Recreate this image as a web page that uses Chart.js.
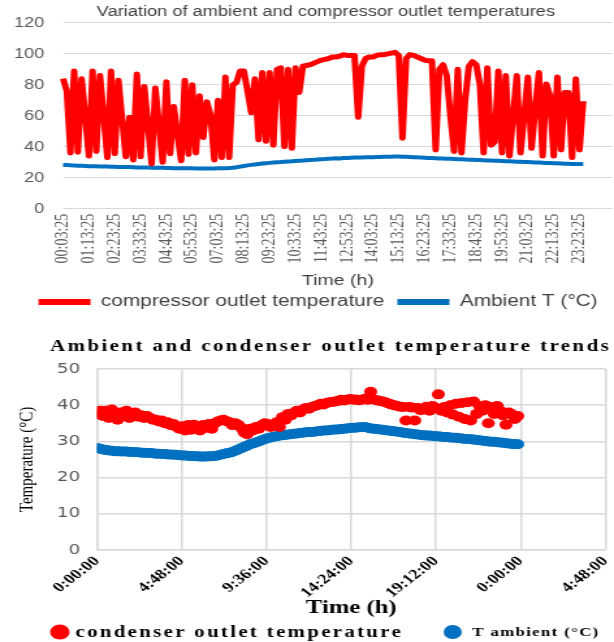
<!DOCTYPE html>
<html>
<head>
<meta charset="utf-8">
<script src="https://cdn.jsdelivr.net/npm/chart.js@4.4.1/dist/chart.umd.min.js"></script>
<style>
  body { margin: 0; background: #fff; }
  canvas { display: block; }
</style>
</head>
<body>
<!-- the figure is stretched sideways, so both charts are drawn 472 wide and widened to 614 by css -->
<canvas id="top-chart" width="472" height="320" style="width:614px;height:320px"></canvas>
<canvas id="bottom-chart" width="472" height="322" style="width:614px;height:322px"></canvas>
<script>
// ---- top chart: compressor outlet vs ambient, one value every 10 min from 00:03:25
const compressorT = [
  84, 76, 36, 89, 36.5, 84, 60, 34, 89, 37,
  86, 60, 33, 89, 35.5, 83, 58, 33.5, 59, 31.5,
  87, 33.5, 79, 54, 29, 78, 54, 30, 82, 35.5,
  66, 48, 31, 83, 35, 80, 36, 73, 46, 69,
  60, 31.5, 70, 33, 85, 33, 80, 81.5, 89, 89,
  76, 62, 84, 44.5, 88, 43.5, 88, 41, 90, 91,
  40, 90, 39, 91, 75, 92, 92.5, 93, 94, 95,
  96, 96.5, 97, 98, 98, 98.5, 99.5, 99, 99, 99,
  59, 92, 97, 98, 98, 99, 99.5, 99.5, 100, 100.5,
  101, 99, 45.5, 97, 99.5, 99, 98, 97, 96, 95.5,
  95.5, 38, 90, 93, 86, 60, 37, 90, 36, 70,
  92, 95, 93, 80, 36, 91, 41, 43, 89, 36,
  86, 34, 60, 86, 36, 60, 85, 39, 65, 88,
  34, 80.5, 73, 34, 85, 38, 75, 75, 33, 84,
  38, 69.5
];
const ambientT = [
  28.3, 28.2, 28.0, 27.9, 27.8, 27.7, 27.6, 27.5, 27.5, 27.4,
  27.3, 27.3, 27.2, 27.1, 27.1, 27.0, 27.0, 26.9, 26.9, 26.8,
  26.7, 26.7, 26.6, 26.6, 26.5, 26.5, 26.4, 26.4, 26.3, 26.3,
  26.2, 26.2, 26.2, 26.1, 26.1, 26.1, 26.0, 26.0, 26.0, 26.0,
  26.0, 26.0, 26.1, 26.1, 26.2, 26.3, 26.5, 26.8, 27.2, 27.6,
  28.0, 28.3, 28.6, 28.9, 29.2, 29.4, 29.6, 29.8, 30.0, 30.1,
  30.3, 30.5, 30.6, 30.8, 31.0, 31.1, 31.3, 31.5, 31.6, 31.8,
  32.0, 32.1, 32.3, 32.4, 32.6, 32.5, 32.7, 32.8, 32.9, 33.0,
  33.0, 33.1, 33.2, 33.2, 33.3, 33.4, 33.4, 33.5, 33.6, 33.6,
  33.8, 33.7, 33.6, 33.5, 33.4, 33.3, 33.2, 33.0, 32.9, 32.8,
  32.7, 32.6, 32.5, 32.4, 32.3, 32.2, 32.1, 32.0, 31.9, 31.8,
  31.7, 31.6, 31.5, 31.4, 31.3, 31.2, 31.1, 31.0, 30.9, 30.8,
  30.7, 30.6, 30.5, 30.4, 30.3, 30.2, 30.1, 30.0, 29.9, 29.8,
  29.7, 29.6, 29.5, 29.4, 29.3, 29.2, 29.1, 29.0, 28.9, 28.9,
  28.8, 28.8
];
const startSec = 3 * 60 + 25;   // 00:03:25
const stepSec = 600;            // 10 min
const slotCount = 150;          // axis runs a bit past the last reading
const labelEvery = 7;           // a label every 70 min
const lastLabel = 140;          // 23:23:25

function clock(sec) {
  const h = Math.floor(sec / 3600) % 24, m = Math.floor(sec / 60) % 60, s = sec % 60;
  return [h, m, s].map(n => String(n).padStart(2, '0')).join(':');
}
const timeLabels = [];
for (let i = 0; i < slotCount; i++) timeLabels.push(clock(startSec + i * stepSec));

// nudge title and legend right, the excel original centres them over the plot
const nudgeTop = {
  id: 'nudgeTop',
  afterLayout(chart) {
    chart.titleBlock.left += 20;
    chart.legend.left += 8;
  }
};

new Chart(document.getElementById('top-chart'), {
  type: 'line',
  data: {
    labels: timeLabels,
    datasets: [
      {
        label: 'compressor outlet temperature',
        data: compressorT,
        borderColor: '#ff0000',
        backgroundColor: '#ff0000',
        borderWidth: 5,
        borderJoinStyle: 'round',
        pointRadius: 0
      },
      {
        label: 'Ambient T (°C)',
        data: ambientT,
        borderColor: '#0070c0',
        backgroundColor: '#0070c0',
        borderWidth: 4,
        pointRadius: 0
      }
    ]
  },
  options: {
    responsive: false,
    animation: false,
    layout: { padding: { left: 10, right: 1, top: 0, bottom: 0 } },
    plugins: {
      title: {
        display: true,
        text: 'Variation of ambient and compressor outlet temperatures',
        color: '#404040',
        font: { family: 'Liberation Sans', size: 14, weight: 'normal' },
        padding: { top: 4, bottom: 2 }
      },
      legend: {
        position: 'bottom',
        labels: {
          boxWidth: 40,
          boxHeight: 6,
          padding: 10,
          color: '#404040',
          font: { family: 'Liberation Sans', size: 16 },
          generateLabels: chart => Chart.defaults.plugins.legend.labels.generateLabels(chart)
            .map(item => Object.assign(item, { fillStyle: item.strokeStyle, lineWidth: 0 }))
        }
      },
      tooltip: { enabled: false }
    },
    scales: {
      x: {
        afterFit: scale => { scale.paddingLeft = 0; scale.paddingRight = 0; },
        grid: { display: false, drawTicks: false },
        border: { display: false },
        ticks: {
          autoSkip: false,
          minRotation: 90,
          maxRotation: 90,
          padding: 5,
          color: '#595959',
          font: { family: 'Liberation Serif', size: 14 },
          callback: (v, i) => (i % labelEvery === 0 && i <= lastLabel) ? timeLabels[i] : ''
        },
        title: {
          display: true,
          text: 'Time (h)',
          color: '#404040',
          font: { family: 'Liberation Sans', size: 15 },
          padding: { top: 3.5, bottom: -6 }
        }
      },
      y: {
        min: 0,
        max: 120,
        afterFit: scale => { scale.width = 38.5; },
        grid: { color: '#d9d9d9', drawTicks: false },
        border: { display: false },
        ticks: {
          stepSize: 20,
          padding: 14.5,
          color: '#595959',
          font: { family: 'Liberation Sans', size: 14 }
        }
      }
    }
  },
  plugins: [nudgeTop]
});

// ---- bottom chart: condenser outlet vs ambient, one reading every 10 min over one day
const condenserT = [
  37.5, 38.5, 37, 38.5, 36.5, 38.8, 37.5, 36, 38, 37,
  38.5, 36.5, 37.5, 38, 36.8, 37.2, 36.5, 37, 36.5, 36,
  36, 35.5, 35.8, 35, 35.3, 34.5, 34.8, 34, 33.5, 34.2,
  33, 34.5, 33.2, 34.6, 33.5, 33, 34.5, 33.8, 34.8, 33.5,
  35, 35.5, 35.8, 36, 35.6, 35.3, 34.5, 35, 34.6, 33.8,
  32.5, 32, 33.5, 33, 34, 33.5, 34.5, 35, 34.8, 34,
  34.5, 35.3, 34, 36.7, 36, 37.6, 37.2, 38, 38.5, 38,
  38.8, 39.2, 39, 39.5, 39.8, 40, 40.4, 40.2, 40.6, 40.8,
  40.9, 41, 41.2, 41.5, 41.3, 41.5, 41.7, 41.5, 41.6, 41.4,
  41.5, 41.8, 41.5, 43.7, 41.6, 41.4, 41.2, 41, 40.8, 40.5,
  40.2, 40, 39.8, 39.6, 39.5, 35.8, 39.5, 39.4, 35.8, 39.2,
  38.6, 39, 39.6, 38.5, 39.8, 39.3, 43, 38.5, 39.5, 38,
  40, 37.4, 40.4, 36.8, 40.6, 36.2, 40.8, 35.8, 41, 37.6,
  39.8, 38.5, 40, 35, 39.5, 37.6, 39.8, 38.5, 37.2, 34.6,
  38, 37.5, 36.2, 37
];
const ambientB = [
  28.2, 28.0, 27.8, 27.6, 27.5, 27.4, 27.3, 27.3, 27.2, 27.2,
  27.2, 27.1, 27.1, 27.0, 27.0, 26.9, 26.9, 26.8, 26.8, 26.7,
  26.6, 26.6, 26.5, 26.5, 26.4, 26.4, 26.3, 26.3, 26.2, 26.1,
  26.1, 26.0, 26.0, 25.9, 25.9, 25.8, 25.8, 25.8, 25.9, 25.9,
  26.0, 26.1, 26.3, 26.5, 26.7, 26.9, 27.1, 27.4, 27.8, 28.1,
  28.5, 28.8, 29.2, 29.4, 29.7, 30.0, 30.3, 30.6, 30.9, 31.1,
  31.3, 31.4, 31.6, 31.7, 31.8, 31.9, 32.0, 32.1, 32.2, 32.3,
  32.4, 32.5, 32.6, 32.6, 32.7, 32.8, 32.9, 33.0, 33.0, 33.1,
  33.2, 33.3, 33.3, 33.4, 33.5, 33.6, 33.7, 33.8, 33.8, 33.9,
  33.9, 34.0, 33.8, 33.6, 33.5, 33.4, 33.3, 33.2, 33.1, 33.0,
  32.9, 32.8, 32.7, 32.6, 32.4, 32.3, 32.2, 32.1, 32.0, 31.9,
  31.8, 31.7, 31.6, 31.6, 31.5, 31.4, 31.4, 31.3, 31.2, 31.2,
  31.1, 31.0, 31.0, 30.9, 30.8, 30.7, 30.7, 30.6, 30.5, 30.4,
  30.3, 30.2, 30.1, 30.0, 29.9, 29.9, 29.8, 29.7, 29.6, 29.5,
  29.4, 29.3, 29.3, 29.2
];
const readingsPerDay = 144;
const bottomTitle = 'Ambient and condenser outlet temperature trends';

const asPoints = arr => arr.map((v, i) => ({ x: i / readingsPerDay, y: v }));

// x values are fractions of a day, shown as h:mm:00
function dayClock(v) {
  const m = Math.round(v * 1440) % 1440;
  return Math.floor(m / 60) + ':' + String(m % 60).padStart(2, '0') + ':00';
}

// spaced bold serif title and legend, drawn by hand
const spacedText = {
  id: 'spacedText',
  afterDraw(chart) {
    const ctx = chart.ctx;
    const ds = chart.data.datasets;
    ctx.save();
    ctx.textBaseline = 'middle';
    ctx.textAlign = 'left';
    ctx.fillStyle = '#000';
    ctx.letterSpacing = '1.9px';
    ctx.font = 'bold 16px "Liberation Serif"';
    ctx.fillText(bottomTitle, 38.5, 27);

    const y = 312;
    ctx.fillStyle = ds[0].backgroundColor;
    ctx.beginPath(); ctx.arc(46, y, 7.5, 0, Math.PI * 2); ctx.fill();
    ctx.fillStyle = '#000';
    ctx.letterSpacing = '1.8px';
    ctx.fillText(ds[0].label, 58, y + 1);

    ctx.fillStyle = ds[1].backgroundColor;
    ctx.beginPath(); ctx.arc(348, y, 7, 0, Math.PI * 2); ctx.fill();
    ctx.fillStyle = '#000';
    ctx.letterSpacing = '1px';
    ctx.font = 'bold 13px "Liberation Serif"';
    ctx.fillText(ds[1].label, 363, y + 1);
    ctx.restore();
  }
};

new Chart(document.getElementById('bottom-chart'), {
  type: 'scatter',
  data: {
    datasets: [
      {
        label: 'condenser outlet temperature',
        data: asPoints(condenserT),
        backgroundColor: '#ff0000',
        borderWidth: 0,
        pointRadius: 5
      },
      {
        label: 'T ambient (°C)',
        data: asPoints(ambientB),
        backgroundColor: '#0070c0',
        borderWidth: 0,
        pointRadius: 5
      }
    ]
  },
  options: {
    responsive: false,
    animation: false,
    layout: { padding: { left: 0, right: 6.6, top: 49, bottom: 22.6 } },
    plugins: {
      legend: { display: false },
      tooltip: { enabled: false }
    },
    scales: {
      x: {
        type: 'linear',
        min: 0,
        max: 1.2,
        afterFit: scale => { scale.paddingRight = 0; },
        grid: { color: '#d9d9d9', lineWidth: 1.5, drawTicks: false },
        border: { color: '#d9d9d9', width: 1.5 },
        ticks: {
          stepSize: 0.2,
          minRotation: 45,
          maxRotation: 45,
          padding: 3,
          color: '#000',
          font: { family: 'Liberation Serif', size: 14, weight: 'bold' },
          callback: v => dayClock(v)
        },
        title: {
          display: true,
          text: 'Time (h)',
          color: '#000',
          font: { family: 'Liberation Serif', size: 19, weight: 'bold' },
          padding: { top: -7.6, bottom: 0 }
        }
      },
      y: {
        min: 0,
        max: 50,
        afterFit: scale => { scale.width = 74.6; },
        grid: { color: '#d9d9d9', lineWidth: 1.5, drawTicks: false },
        border: { color: '#d9d9d9', width: 1.5 },
        ticks: {
          stepSize: 5,
          padding: 13,
          color: '#595959',
          font: { family: 'DejaVu Sans', size: 14 }
        },
        title: {
          display: true,
          text: 'Temperature (°C)',
          color: '#000',
          font: { family: 'Liberation Serif', size: 15 },
          padding: { top: 12.5, bottom: 0 }
        }
      }
    }
  },
  plugins: [spacedText]
});
</script>
</body>
</html>
